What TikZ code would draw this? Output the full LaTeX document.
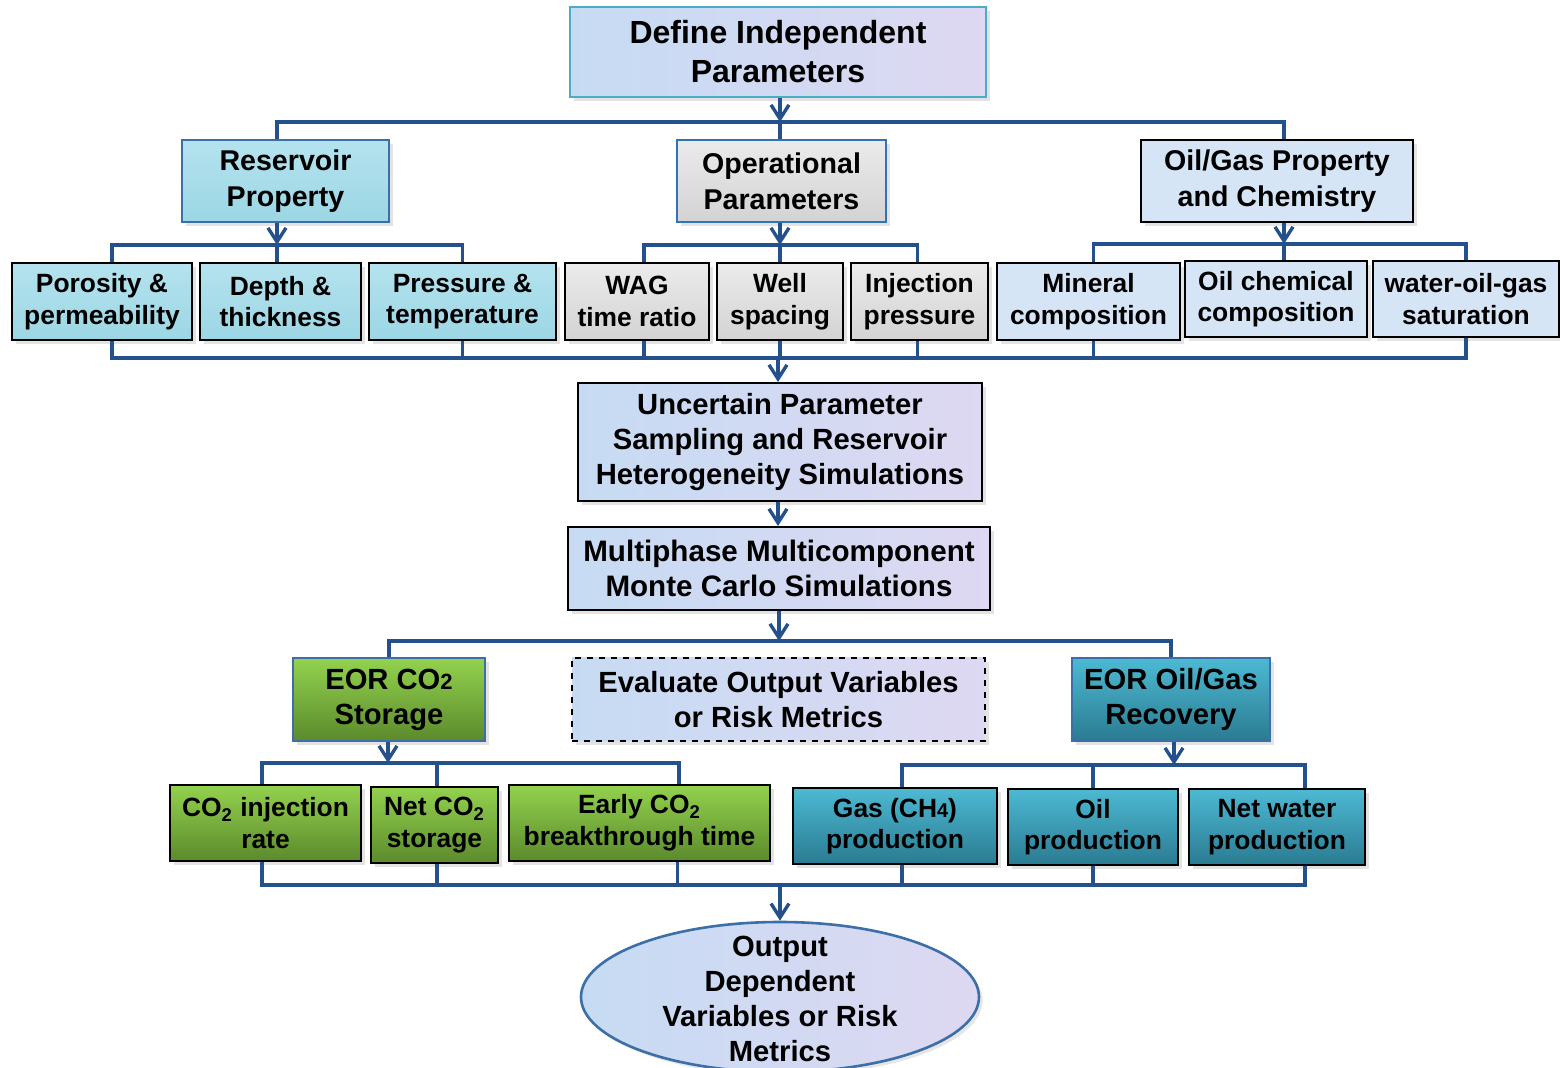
\documentclass[tikz,border=0pt]{standalone}
\usepackage{fontspec}
\setmainfont{Liberation Sans}
\usetikzlibrary{arrows.meta,shapes.geometric,shadows}
\definecolor{conn}{HTML}{24508C}
\definecolor{lavA}{HTML}{C6DBF3}
\definecolor{lavB}{HTML}{DED8F2}
\definecolor{cyanA}{HTML}{B4E3EE}
\definecolor{cyanB}{HTML}{9CD6E4}
\definecolor{grayA}{HTML}{EBEBEB}
\definecolor{grayB}{HTML}{D3D3D3}
\definecolor{pblue}{HTML}{D5E5F6}
\definecolor{greenA}{HTML}{93D24E}
\definecolor{greenB}{HTML}{5B8A2C}
\definecolor{tealA}{HTML}{4DB9D3}
\definecolor{tealB}{HTML}{2A7B91}
\definecolor{bordcyan}{HTML}{4BACC6}
\definecolor{bordblue}{HTML}{2E75B6}
\definecolor{bordmid}{HTML}{3C6FA8}
\newcommand\fsTop{\fontsize{16pt}{19.5pt}\selectfont}
\newcommand\fsSec{\fontsize{14.3pt}{18pt}\selectfont}
\newcommand\fsRow{\fontsize{13.2pt}{15.8pt}\selectfont}
\newcommand\fsMid{\fontsize{14.6pt}{17.5pt}\selectfont}
\newcommand\fsMul{\fontsize{14.8pt}{17.5pt}\selectfont}
\begin{document}
\begin{tikzpicture}[x=0.5pt,y=-0.5pt,
  every node/.style={align=center, inner sep=0pt},
  bx/.style={draw=black, line width=1pt, drop shadow={opacity=0.22, shadow xshift=1.8pt, shadow yshift=-1.8pt}},
  sz/.style 2 args={minimum width=#1, minimum height=#2},
  lav/.style={bx, left color=lavA, right color=lavB},
  cyanbox/.style={bx, top color=cyanA, bottom color=cyanB},
  graybox/.style={bx, top color=grayA, bottom color=grayB},
  pbox/.style={bx, fill=pblue},
  greenbox/.style={bx, top color=greenA, bottom color=greenB},
  tealbox/.style={bx, top color=tealA, bottom color=tealB},
  cl/.style={draw=conn, line width=1.7pt},
  arr/.style={cl, -{Straight Barb[length=7pt,width=9pt]}},
]
\useasboundingbox (0,0) rectangle (1560,1068);

% ---------- top ----------
\node[lav, draw=bordcyan, font=\bfseries\fsTop, sz={208pt}{45pt}] (def) at (778,52) {Define Independent\\Parameters};

\node[cyanbox, draw=bordmid, font=\bfseries\fsSec, sz={103.5pt}{41pt}] (res) at (285.5,181) {Reservoir\\Property};
\node[graybox, draw=bordblue, font=\bfseries\fsSec, sz={104.5pt}{41pt}] (ops) at (781.5,181) {Operational\\Parameters};
\node[pbox, font=\bfseries\fsSec, sz={136pt}{41pt}] (oil) at (1277,181) {Oil/Gas Property\\and Chemistry};

% ---------- row 2 ----------
\node[cyanbox, font=\bfseries\fsRow, sz={90pt}{38.5pt}] (poro) at (102,301.5) {Porosity \&\\permeability};
\node[cyanbox, font=\bfseries\fsRow, sz={80.5pt}{38.5pt}] (depth) at (280.5,301.5) {Depth \&\\thickness};
\node[cyanbox, font=\bfseries\fsRow, sz={93.5pt}{38.5pt}] (press) at (462.5,301.5) {Pressure \&\\temperature};
\node[graybox, font=\bfseries\fsRow, sz={72pt}{38.5pt}] (wag) at (637,301.5) {WAG\\time ratio};
\node[graybox, font=\bfseries\fsRow, sz={63pt}{38.5pt}] (well) at (780,301.5) {Well\\spacing};
\node[graybox, font=\bfseries\fsRow, sz={68.5pt}{38.5pt}] (inj) at (919.5,301.5) {Injection\\pressure};
\node[pbox, font=\bfseries\fsRow, sz={91.5pt}{38.5pt}] (mineral) at (1088.5,301.5) {Mineral\\composition};
\node[pbox, font=\bfseries\fsRow, sz={91pt}{38pt}] (oilchem) at (1276,299) {Oil chemical\\composition};
\node[pbox, font=\bfseries\fsRow, sz={93pt}{38pt}] (water) at (1466,299) {water-oil-gas\\saturation};

% ---------- middle ----------
\node[lav, font=\bfseries\fsMid, sz={202pt}{59pt}] (unc) at (780,442) {Uncertain Parameter\\Sampling and Reservoir\\Heterogeneity Simulations};
\node[lav, font=\bfseries\fsMul, sz={211pt}{41.5pt}] (multi) at (779,568.5) {Multiphase Multicomponent\\Monte Carlo Simulations};

\node[greenbox, draw=bordmid, font=\bfseries\fsMid, sz={96pt}{41.5pt}] (eco2) at (389,699.5) {EOR CO{\fontsize{11pt}{11pt}\selectfont 2}\\Storage};
\node[lav, dashed, font=\bfseries\fsMid, sz={206.5pt}{41.5pt}] (eval) at (778.5,699.5) {Evaluate Output Variables\\or Risk Metrics};
\node[tealbox, draw=bordmid, font=\bfseries\fsMid, sz={99pt}{41.5pt}] (eoil) at (1171,699.5) {EOR Oil/Gas\\Recovery};

% ---------- output rows ----------
\node[greenbox, font=\bfseries\fsRow, sz={95.5pt}{38pt}] (co2inj) at (265.5,823) {CO\textsubscript{2} injection\\rate};
\node[greenbox, font=\bfseries\fsRow, sz={63.5pt}{38pt}] (netco2) at (434.5,825) {Net CO\textsubscript{2}\\storage};
\node[greenbox, font=\bfseries\fsRow, sz={130.5pt}{38pt}] (early) at (639.5,823) {Early CO\textsubscript{2}\\breakthrough time};
\node[tealbox, font=\bfseries\fsRow, sz={102pt}{38pt}] (gas) at (895,826) {Gas (CH{\fontsize{10pt}{10pt}\selectfont 4})\\production};
\node[tealbox, font=\bfseries\fsRow, sz={85pt}{38pt}] (oilprod) at (1093,827) {Oil\\production};
\node[tealbox, font=\bfseries\fsRow, sz={88pt}{38pt}] (netw) at (1277,827) {Net water\\production};

% ---------- ellipse ----------
\node[ellipse, draw=bordmid, line width=1.3pt, left color=lavA, right color=lavB,
      minimum width=199pt, minimum height=75pt, drop shadow={opacity=0.2, shadow xshift=1.8pt, shadow yshift=-1.8pt}] (ell) at (780,997) {};
\node[font=\bfseries\fsMid] (elltext) at (780,999) {Output\\Dependent\\Variables or Risk\\Metrics};

% ---------- connectors ----------
\coordinate (b1) at (780,122);
\draw[arr] (def.south -| b1) -- (b1);
\draw[cl] ([xshift=-4.2pt]res.north) |- (b1) -| ([xshift=3.5pt]oil.north);
\draw[cl] (ops.north -| b1) -- (b1);

\coordinate (b2) at (277,245);
\draw[arr] (res.south -| b2) -- (b2);
\draw[cl] ([xshift=5pt]poro.north) |- (b2) -| (press.north);
\draw[cl] (depth.north -| b2) -- (b2);

\coordinate (b2b) at (780,245);
\draw[arr] (ops.south -| b2b) -- (b2b);
\draw[cl] ([xshift=3.5pt]wag.north) |- (b2b) -| ([xshift=-1pt]inj.north);
\draw[cl] (well.north -| b2b) -- (b2b);

\coordinate (b3) at (1284,244);
\draw[arr] (oil.south -| b3) -- (b3);
\draw[cl] ([xshift=2.5pt]mineral.north) |- (b3) -| (water.north);
\draw[cl] (oilchem.north -| b3) -- (b3);

\coordinate (b4) at (778,358);
\draw[cl] ([xshift=5pt]poro.south) |- (b4) -| (water.south);
\draw[cl] (depth.south -| b2) -- (depth.south -| b2 |- b4);
\draw[cl] (press.south) -- (press.south |- b4);
\draw[cl] ([xshift=3.5pt]wag.south) -- ([xshift=3.5pt]wag.south |- b4);
\draw[cl] (well.south) -- (well.south |- b4);
\draw[cl] ([xshift=-1pt]inj.south) -- ([xshift=-1pt]inj.south |- b4);
\draw[cl] ([xshift=2.5pt]mineral.south) -- ([xshift=2.5pt]mineral.south |- b4);
\draw[cl] (oilchem.south -| b3) -- (oilchem.south -| b3 |- b4);
\draw[arr] (b4) -- (unc.north -| b4);

\draw[arr] (unc.south -| b4) -- (multi.north -| b4);

\coordinate (b6) at (779,641);
\draw[arr] (multi.south -| b6) -- (b6);
\draw[cl] (eco2.north) |- (b6) -| (eoil.north);

\coordinate (b7) at (388,763);
\draw[arr] (eco2.south -| b7) -- (b7);
\draw[cl] ([xshift=-1.75pt]co2inj.north) |- (b7) -| ([xshift=19.7pt]early.north);
\draw[cl] ([xshift=1.25pt]netco2.north) -- ([xshift=1.25pt]netco2.north |- b7);

\coordinate (b8) at (1174,765);
\draw[arr] (eoil.south -| b8) -- (b8);
\draw[cl] ([xshift=3.5pt]gas.north) |- (b8) -| ([xshift=14pt]netw.north);
\draw[cl] (oilprod.north) -- (oilprod.north |- b8);

\coordinate (b9) at (780,885);
\draw[cl] ([xshift=-1.75pt]co2inj.south) |- (b9) -| ([xshift=14pt]netw.south);
\draw[cl] ([xshift=1.25pt]netco2.south) -- ([xshift=1.25pt]netco2.south |- b9);
\draw[cl] ([xshift=19pt]early.south) -- ([xshift=19pt]early.south |- b9);
\draw[cl] ([xshift=3.5pt]gas.south) -- ([xshift=3.5pt]gas.south |- b9);
\draw[cl] (oilprod.south) -- (oilprod.south |- b9);
\draw[arr] (b9) -- (ell.north);
\end{tikzpicture}
\end{document}
